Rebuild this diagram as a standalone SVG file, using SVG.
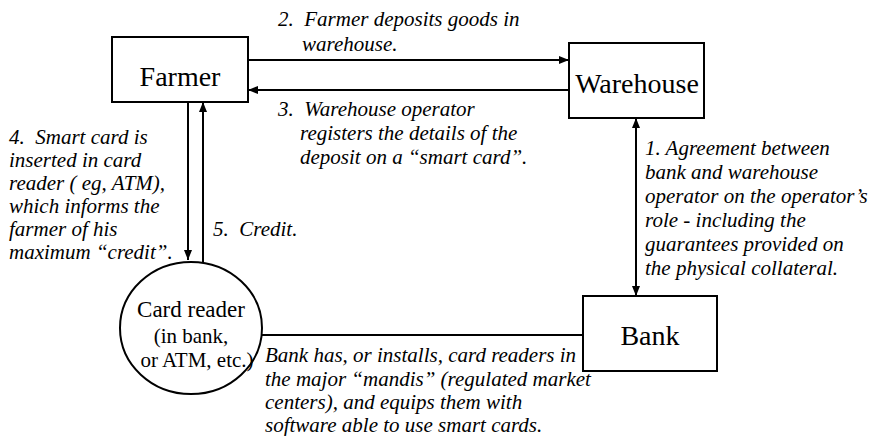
<svg xmlns="http://www.w3.org/2000/svg" width="876" height="436" viewBox="0 0 876 436">
<defs>
<style>
.box{fill:#fff;stroke:#000;stroke-width:2}
.ln{stroke:#000;stroke-width:2;fill:none}
.big{font-size:28px}
.mid{font-size:21px}
.lab{font-size:21px;font-style:italic}
</style>
<marker id="ah" viewBox="0 0 10 10" refX="10" refY="5" markerWidth="10" markerHeight="10" markerUnits="userSpaceOnUse" orient="auto-start-reverse">
<path d="M0,1 L10,5 L0,9 z" fill="#000"/>
</marker>
</defs>
<rect width="876" height="436" fill="#fff"/>
<g id="connectors">
<line class="ln" x1="248" y1="60" x2="569" y2="60" marker-end="url(#ah)"/>
<line class="ln" x1="569" y1="90" x2="248" y2="90" marker-end="url(#ah)"/>
<line class="ln" x1="188" y1="102" x2="188" y2="260" marker-end="url(#ah)"/>
<line class="ln" x1="203" y1="263" x2="203" y2="102" marker-end="url(#ah)"/>
<line class="ln" x1="636" y1="118" x2="636" y2="296" marker-start="url(#ah)" marker-end="url(#ah)"/>
<line class="ln" x1="262" y1="335" x2="583" y2="335"/>
</g>
<g font-family="Liberation Serif, DejaVu Serif, serif" fill="#000">
<g id="farmer">
<rect class="box" x="112" y="37" width="136" height="65"/>
<text class="big" x="180" y="86" text-anchor="middle">Farmer</text>
</g>
<g id="warehouse">
<rect class="box" x="569" y="43" width="135" height="75"/>
<text class="big" x="637" y="93" text-anchor="middle">Warehouse</text>
</g>
<g id="bank">
<rect class="box" x="583" y="296" width="134" height="75"/>
<text class="big" x="650" y="345" text-anchor="middle">Bank</text>
</g>
<g id="card-reader">
<ellipse class="box" cx="191" cy="328" rx="71" ry="66"/>
<text class="mid" x="191" y="317" text-anchor="middle" style="font-size:23px">Card reader</text>
<text class="mid" x="191" y="343" text-anchor="middle">(in bank,</text>
<text class="mid" x="197" y="367" text-anchor="middle">or ATM, etc.)</text>
</g>
<g id="labels">
<text class="lab" x="278" y="26">2.&#160; Farmer deposits goods in</text>
<text class="lab" x="302" y="51">warehouse.</text>
<text class="lab" x="278" y="116">3.&#160; Warehouse operator</text>
<text class="lab" x="300" y="140">registers the details of the</text>
<text class="lab" x="300" y="164">deposit on a “smart card”.</text>
<text class="lab" x="9" y="144">4.&#160; Smart card is</text>
<text class="lab" x="9" y="167">inserted in card</text>
<text class="lab" x="9" y="190">reader ( eg, ATM),</text>
<text class="lab" x="9" y="213">which informs the</text>
<text class="lab" x="9" y="236">farmer of his</text>
<text class="lab" x="9" y="259">maximum “credit”.</text>
<text class="lab" x="213" y="236">5.&#160; Credit.</text>
<text class="lab" x="645" y="155">1. Agreement between</text>
<text class="lab" x="645" y="179">bank and warehouse</text>
<text class="lab" x="645" y="203">operator on the operator’s</text>
<text class="lab" x="645" y="227">role - including the</text>
<text class="lab" x="645" y="251">guarantees provided on</text>
<text class="lab" x="645" y="275">the physical collateral.</text>
<text class="lab" x="265" y="362">Bank has, or installs, card readers in</text>
<text class="lab" x="265" y="386">the major “mandis” (regulated market</text>
<text class="lab" x="265" y="409">centers), and equips them with</text>
<text class="lab" x="265" y="432">software able to use smart cards.</text>
</g>
</g>
</svg>
